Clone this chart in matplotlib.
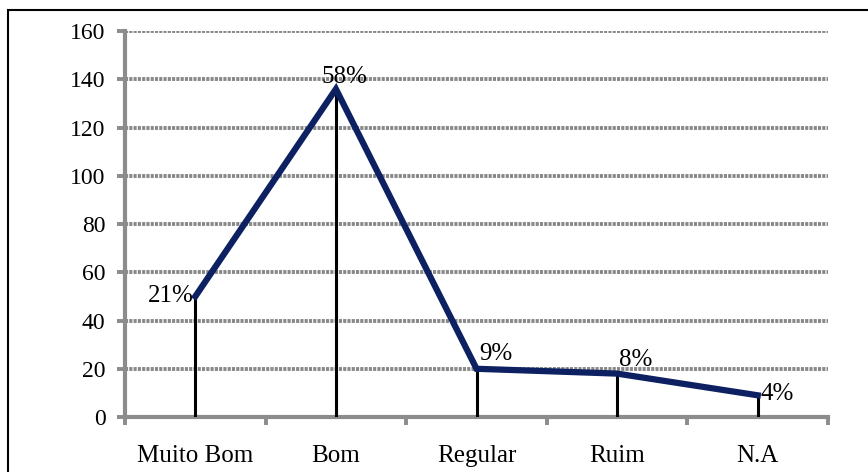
import matplotlib.pyplot as plt
from matplotlib.patches import Rectangle
from matplotlib.ticker import MultipleLocator

categorias = ["Muito Bom", "Bom", "Regular", "Ruim", "N.A"]
respostas = [50, 136, 20, 18, 9]
percentuais = ["21%", "58%", "9%", "8%", "4%"]

plt.rcParams['font.family'] = ['Liberation Serif', 'DejaVu Serif']

fig = plt.figure(figsize=(8.68, 4.72), dpi=100)
ax = fig.add_axes([0.144, 0.1165, 0.81, 0.8175])

# moldura externa do grafico
fig.patches.append(Rectangle((8 / 868, -0.1), 1.2, 1 - 10 / 472 + 0.1,
                             transform=fig.transFigure, fill=False,
                             edgecolor='black', linewidth=1.5))

x = list(range(len(categorias)))
ax.vlines(x, 0, respostas, colors='black', linewidth=2.2, zorder=3)
ax.plot(x, respostas, color='#0d2162', linewidth=4.5, zorder=4,
        solid_joinstyle='miter')

# posicoes dos rotulos de porcentagem
offsets = [(-1, 0, 'right', 'center'), (6, 1, 'center', 'bottom'),
           (2, 3, 'left', 'bottom'), (1, 2, 'left', 'bottom'),
           (2, 1, 'left', 'center')]
for xi, yi, txt, (dx, dy, ha, va) in zip(x, respostas, percentuais, offsets):
    ax.annotate(txt, (xi, yi), xytext=(dx, dy), textcoords='offset points',
                ha=ha, va=va, fontsize=18, zorder=5)

ax.set_xlim(-0.5, 4.5)
ax.set_ylim(0, 160)
ax.yaxis.set_major_locator(MultipleLocator(20))
ax.set_xticks(x)
ax.set_xticklabels(categorias)
ax.set_xticks([i - 0.5 for i in range(len(categorias) + 1)], minor=True)

ax.grid(axis='y', color='#888888', linestyle=(0, (0.8, 0.3)), linewidth=2.8)
ax.set_axisbelow(True)

for s in ['top', 'right']:
    ax.spines[s].set_visible(False)
for s in ['left', 'bottom']:
    ax.spines[s].set_color('#8c8c8c')
    ax.spines[s].set_linewidth(3)

ax.tick_params(axis='y', which='major', length=6, width=2.8, color='#8c8c8c',
               labelsize=17, pad=8)
ax.tick_params(axis='x', which='major', length=0, labelsize=18, pad=20)
ax.tick_params(axis='x', which='minor', length=6, width=2.8, color='#8c8c8c')

fig.savefig('out.png', dpi=100)
